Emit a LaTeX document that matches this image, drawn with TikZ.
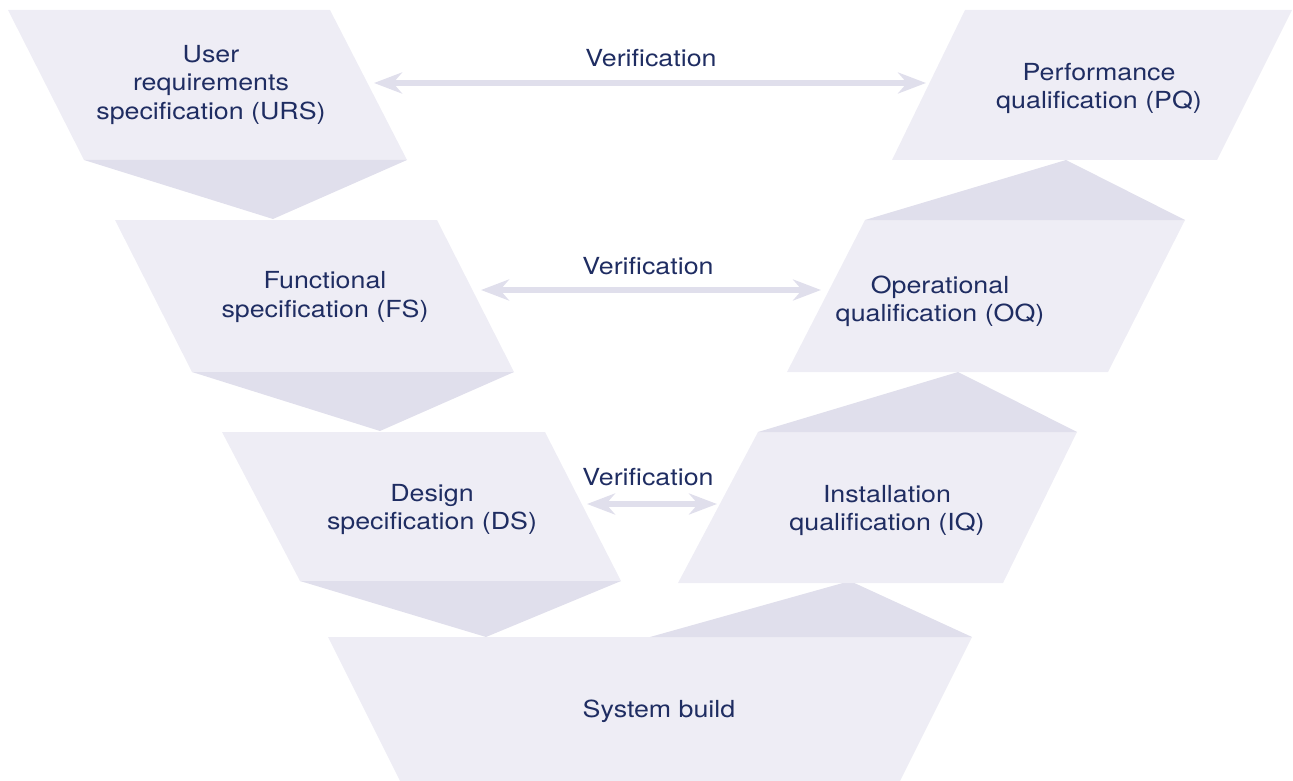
\documentclass[tikz,border=0pt]{standalone}
\usepackage{fontspec}
\setmainfont{TeX Gyre Heros}[FakeStretch=1.14]
\usetikzlibrary{arrows.meta}
\definecolor{boxfill}{HTML}{EEEDF5}
\definecolor{trifill}{HTML}{E0DFEC}
\definecolor{txt}{HTML}{1F2D62}
\tikzset{
  boxshape/.style={fill=boxfill, draw=none},
  trishape/.style={fill=trifill, draw=none},
  lbl/.style={text=txt, align=center, font=\fontsize{23.5}{28.5}\selectfont, inner sep=0pt},
  verif/.style={draw=trifill, line width=6pt, {Stealth[length=28pt,width=21pt,inset=9pt]}-{Stealth[length=28pt,width=21pt,inset=9pt]}}
}
\begin{document}
\begin{tikzpicture}[x=1pt,y=-1pt]
\useasboundingbox (0,0) rectangle (1293,781);
% left descending side
\fill[boxshape] (8,10) -- (330,10) -- (407,160) -- (84,160) -- cycle;
\fill[trishape] (84,160) -- (407,160) -- (273,219) -- cycle;
\fill[boxshape] (115,220) -- (437,220) -- (514,372) -- (192,372) -- cycle;
\fill[trishape] (192,372) -- (514,372) -- (380,431) -- cycle;
\fill[boxshape] (222,432) -- (545,432) -- (621,581) -- (300,581) -- cycle;
\fill[trishape] (300,581) -- (621,581) -- (486,637) -- cycle;
% bottom
\fill[boxshape] (328,637) -- (972,637) -- (900,781) -- (400,781) -- cycle;
% right ascending side
\fill[trishape] (650,637) -- (972,637) -- (850,581) -- cycle;
\fill[boxshape] (758,432) -- (1077,432) -- (1003,583) -- (678,583) -- cycle;
\fill[trishape] (758,432) -- (1077,432) -- (958,372) -- cycle;
\fill[boxshape] (865,220) -- (1185,220) -- (1108,372) -- (787,372) -- cycle;
\fill[trishape] (865,220) -- (1185,220) -- (1066,160) -- cycle;
\fill[boxshape] (965,10) -- (1292,10) -- (1217,160) -- (892,160) -- cycle;
% labels
\node[lbl] (urs) at (211,84.5) {User\\requirements\\specification (URS)};
\node[lbl] (fs) at (325,297) {Functional\\specification (FS)};
\node[lbl] (ds) at (432,509.5) {Design\\specification (DS)};
\node[lbl] (sb) at (659,711) {System build};
\node[lbl] (iq) at (887,510.5) {Installation\\qualification (IQ)};
\node[lbl] (oq) at (940,301.5) {Operational\\qualification (OQ)};
\node[lbl] (pq) at (1099,88.5) {Performance\\qualification (PQ)};
\node[lbl] (v1) at (651,58) {Verification};
\node[lbl] (v2) at (648,266) {Verification};
\node[lbl] (v3) at (648,477) {Verification};
% arrow ends
\coordinate (a1l) at (374,83);  \coordinate (a1r) at (926,83);
\coordinate (a2l) at (481,290); \coordinate (a2r) at (821,290);
\coordinate (a3l) at (587,504); \coordinate (a3r) at (717,504);
\draw[verif] (a1l) -- (a1r);
\draw[verif] (a2l) -- (a2r);
\draw[verif] (a3l) -- (a3r);
\end{tikzpicture}
\end{document}
